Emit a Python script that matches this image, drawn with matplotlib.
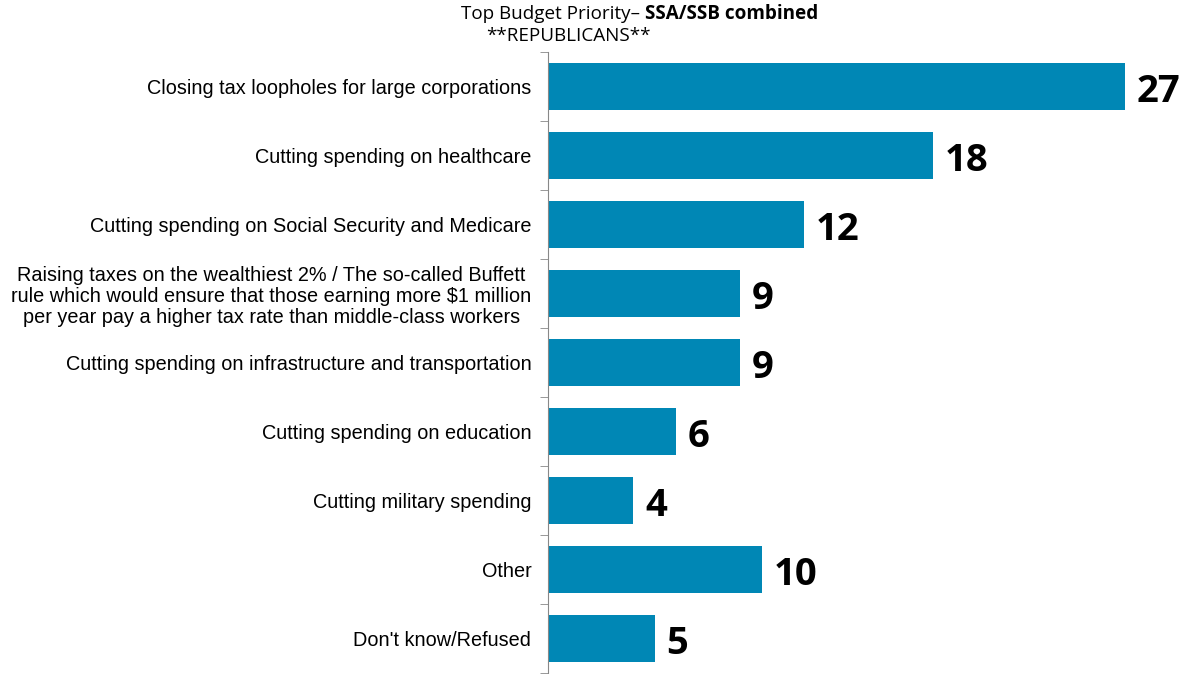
import matplotlib.pyplot as plt

categories = [
    'Closing tax loopholes for large corporations',
    'Cutting spending on healthcare',
    'Cutting spending on Social Security and Medicare',
    'Raising taxes on the wealthiest 2% / The so-called Buffett\n'
    'rule which would ensure that those earning more $1 million\n'
    'per year pay a higher tax rate than middle-class workers',
    'Cutting spending on infrastructure and transportation',
    'Cutting spending on education',
    'Cutting military spending',
    'Other',
    "Don't know/Refused",
]
values = [27, 18, 12, 9, 9, 6, 4, 10, 5]

bar_color = '#0087b5'
W, H = 1181, 674

fig = plt.figure(figsize=(W / 100, H / 100), dpi=100)
ax = fig.add_axes([548 / W, 1 / H, 633 / W, 621 / H])

pos = list(range(len(values)))
ax.barh(pos, values, height=0.68, color=bar_color)
ax.set_ylim(len(values) - 0.5, -0.5)
ax.set_xlim(0, 633 / 21.37)

for p, v in zip(pos, values):
    ax.text(v + 0.55, p + 0.08, str(v), va='center', ha='left',
            fontsize=27.5, fontweight='bold', family='Open Sans', color='black')

# labels sit at bar centres, minor ticks mark category boundaries
ax.set_yticks(pos)
ax.set_yticklabels(categories, fontsize=14.3, family='Liberation Sans')
ax.tick_params(axis='y', which='major', length=0, pad=12)
for t in ax.get_yticklabels():
    t.set_multialignment('center')
    t.set_linespacing(1.12)
ax.set_yticks([p - 0.5 for p in pos] + [len(values) - 0.5], minor=True)
ax.tick_params(axis='y', which='minor', length=6, color='#888888', direction='out')

ax.set_xticks([])
for s in ['top', 'right', 'bottom']:
    ax.spines[s].set_visible(False)
ax.spines['left'].set_color('#888888')

fig.text(640 / W, 1 - 14 / H, 'Top Budget Priority\u2013', ha='right', va='center',
         fontsize=13.6, family='Open Sans')
fig.text(645 / W, 1 - 14 / H, 'SSA/SSB combined', ha='left', va='center',
         fontsize=13.6, family='Open Sans', fontweight='bold')
fig.text(568 / W, 1 - 36 / H, '**REPUBLICANS**', ha='center', va='center',
         fontsize=13.6, family='Open Sans')

fig.savefig('out.png', dpi=100)
